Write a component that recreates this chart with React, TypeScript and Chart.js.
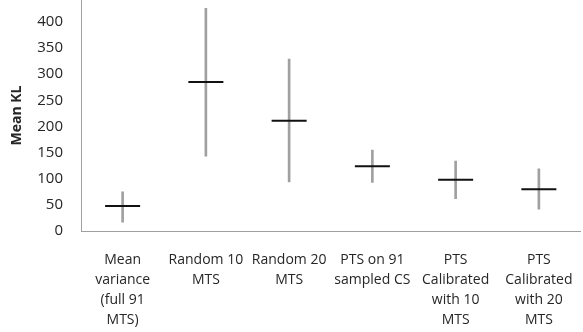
import React, { useEffect, useRef } from "react";
import { Chart, registerables } from "chart.js";

Chart.register(...registerables);

const categories: string[][] = [
  ["Mean", "variance", "(full 91", "MTS)"],
  ["Random 10", "MTS"],
  ["Random 20", "MTS"],
  ["PTS on 91", "sampled CS"],
  ["PTS", "Calibrated", "with 10", "MTS"],
  ["PTS", "Calibrated", "with 20", "MTS"],
];
const meanValues = [48, 285, 211, 124, 98, 80];
const upperValues = [75, 426, 329, 155, 134, 119];
const lowerValues = [17, 143, 94, 93, 62, 42];
const yTickStep = 50;
const yMax = 442;
const yTitle = "Mean KL";

export default function App() {
  const ref = useRef<HTMLCanvasElement | null>(null);

  useEffect(() => {
    if (!ref.current) return;
    const textColor = "#262626";
    const axisColor = "#a0a0a0";
    const ranges = lowerValues.map((lo, i) => [lo, upperValues[i]]);
    const chart = new Chart(ref.current, {
      type: "bar",
      data: {
        labels: categories,
        datasets: [
          {
            type: "line",
            data: meanValues,
            showLine: false,
            pointStyle: "line",
            pointRadius: 17.5,
            pointHoverRadius: 17.5,
            pointBorderWidth: 2,
            pointHoverBorderWidth: 2,
            pointBorderColor: "#111111",
            borderColor: "#111111",
            backgroundColor: "#111111",
            order: 0,
          } as any,
          {
            type: "bar",
            data: ranges as any,
            barThickness: 2,
            backgroundColor: axisColor,
            borderWidth: 0,
            order: 1,
          } as any,
        ],
      },
      options: {
        animation: false,
        responsive: false,
        devicePixelRatio: 1,
        layout: { padding: { left: 0, right: 12, top: 0, bottom: 0 } },
        plugins: {
          legend: { display: false },
          tooltip: { enabled: false },
          title: { display: false },
        },
        events: [],
        scales: {
          x: {
            offset: true,
            grid: { display: false, drawTicks: false },
            border: { display: true, color: axisColor, width: 1 },
            ticks: {
              color: textColor,
              padding: 19,
              maxRotation: 0,
              minRotation: 0,
              autoSkip: false,
              font: { family: "'Open Sans'", size: 14, lineHeight: 20 / 14 },
            },
            afterFit: (s: any) => {
              s.height = 101;
            },
          },
          y: {
            min: 0,
            max: yMax,
            grid: { display: false, drawTicks: false },
            border: { display: true, color: axisColor, width: 1 },
            ticks: {
              stepSize: yTickStep,
              color: textColor,
              padding: 18,
              font: { family: "'Open Sans'", size: 15 },
              callback: (v: any) => (Number(v) % yTickStep === 0 ? String(v) : null),
            },
            title: {
              display: true,
              text: yTitle,
              color: textColor,
              font: { family: "'Open Sans'", size: 14, weight: "bold" },
              padding: { top: 9, bottom: 0 },
            },
            afterFit: (s: any) => {
              s.width = 81;
            },
          },
        },
      },
    });
    return () => chart.destroy();
  }, []);

  return (
    <div
      style={{
        position: "fixed",
        left: 0,
        top: 0,
        width: 583,
        height: 332,
        overflow: "hidden",
        background: "#ffffff",
      }}
    >
      <canvas
        ref={ref}
        width={600}
        height={359}
        style={{ display: "block", position: "absolute", left: 0, top: -27 }}
      />
    </div>
  );
}
